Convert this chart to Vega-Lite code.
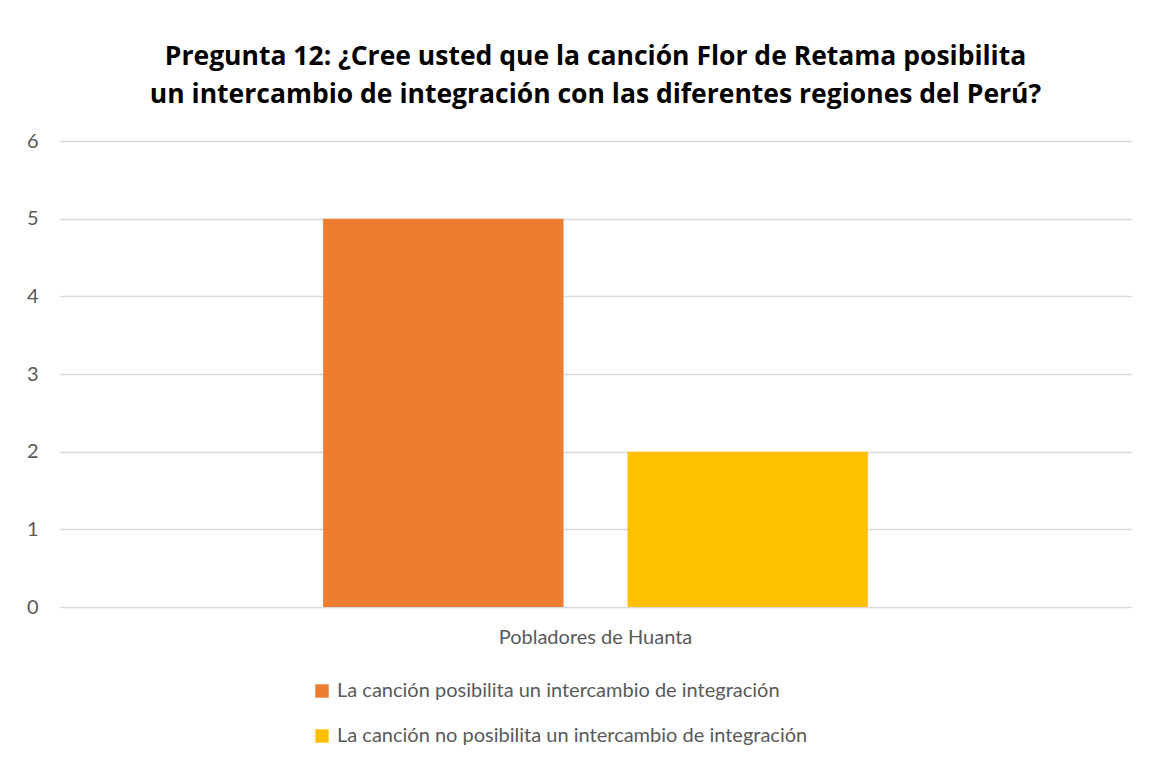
{
  "$schema": "https://vega.github.io/schema/vega-lite/v6.json",
  "autosize": "none",
  "width": 1071,
  "height": 466,
  "padding": {"left": 60, "top": 141, "right": 22, "bottom": 153},
  "background": "white",
  "title": {
    "text": ["Pregunta 12: ¿Cree usted que la canción Flor de Retama posibilita", "un intercambio de integración con las diferentes regiones del Perú?"],
    "anchor": "middle",
    "font": "Open Sans",
    "fontSize": 26.5,
    "fontWeight": "bold",
    "color": "#000000",
    "lineHeight": 38,
    "offset": 23
  },
  "data": {
    "values": [
      {"grupo": "Pobladores de Huanta", "respuesta": "La canción posibilita un intercambio de integración", "valor": 5},
      {"grupo": "Pobladores de Huanta", "respuesta": "La canción no posibilita un intercambio de integración", "valor": 2}
    ]
  },
  "mark": {"type": "bar"},
  "encoding": {
    "x": {
      "field": "grupo",
      "type": "nominal",
      "scale": {"paddingInner": 0, "paddingOuter": 0.483},
      "axis": {"title": null, "labelAngle": 0, "domain": false, "ticks": false, "labelFont": "Lato", "labelFontSize": 20, "labelColor": "#595959", "labelPadding": 20, "labelLimit": 1000}
    },
    "xOffset": {
      "field": "respuesta",
      "type": "nominal",
      "sort": ["La canción posibilita un intercambio de integración", "La canción no posibilita un intercambio de integración"],
      "scale": {"paddingInner": 0.21, "paddingOuter": 0}
    },
    "y": {
      "field": "valor",
      "type": "quantitative",
      "scale": {"domain": [0, 6]},
      "axis": {"title": null, "values": [0, 1, 2, 3, 4, 5, 6], "labelOverlap": false, "domain": false, "ticks": false, "labelFont": "Lato", "labelFontSize": 20, "labelColor": "#595959", "labelPadding": 22, "gridColor": "#d9d9d9", "gridWidth": 1.5}
    },
    "color": {
      "field": "respuesta",
      "type": "nominal",
      "sort": ["La canción posibilita un intercambio de integración", "La canción no posibilita un intercambio de integración"],
      "scale": {"range": ["#ED7D31", "#FFC000"]},
      "legend": {
        "title": null,
        "orient": "none",
        "legendX": 252,
        "legendY": 540,
        "direction": "vertical",
        "symbolType": "square",
        "symbolSize": 180,
        "symbolStrokeWidth": 0,
        "labelFont": "Lato",
        "labelFontSize": 20,
        "labelColor": "#595959",
        "labelLimit": 800,
        "rowPadding": 25,
        "padding": 0,
        "labelOffset": 5
      }
    }
  },
  "config": {
    "view": {"stroke": null}
  }
}
